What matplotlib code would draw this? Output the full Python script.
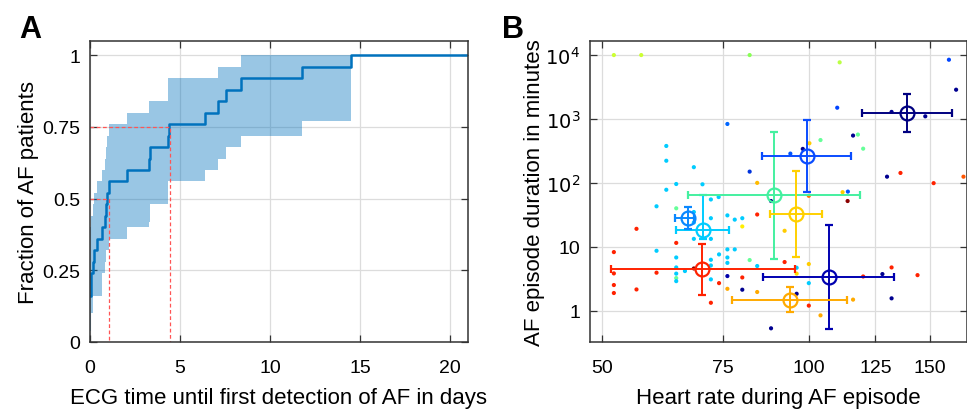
import matplotlib.pyplot as plt
from matplotlib.ticker import NullLocator

plt.rcParams['font.family'] = ['Liberation Sans Narrow', 'Liberation Sans', 'DejaVu Sans']
plt.rcParams['mathtext.fontset'] = 'custom'
plt.rcParams['mathtext.rm'] = 'Liberation Sans Narrow'

# panel A: cumulative fraction of patients with AF detected
step_days = [0, 0.05, 0.15, 0.24, 0.41, 0.69, 0.84, 0.91, 0.97, 1.03, 2.05,
             3.26, 3.36, 4.33, 4.40, 6.38, 7.09, 7.56, 8.41, 11.79, 14.5]
step_frac = [0.16, 0.24, 0.28, 0.32, 0.36, 0.40, 0.44, 0.48, 0.52, 0.56, 0.60,
             0.64, 0.68, 0.72, 0.76, 0.80, 0.84, 0.88, 0.92, 0.96, 1.0]
ci_upper = [0.40, 0.44, 0.48, 0.52, 0.56, 0.60, 0.64, 0.68, 0.72, 0.76,
            0.80, 0.84, 0.84, 0.92, 0.92, 0.92, 0.96, 0.96, 1.0, 1.0]
ci_lower = [0.04, 0.10, 0.16, 0.16, 0.16, 0.24, 0.28, 0.32, 0.32, 0.36,
            0.40, 0.42, 0.48, 0.56, 0.56, 0.60, 0.64, 0.68, 0.72, 0.77]
t50 = 1.03
t75 = 4.44

# panel B: single episodes (heart rate, duration, colour per patient)
ep_hr = [52.0, 57.0, 82.0, 76.1, 62.0, 62.0, 68.0, 82.0, 84.1, 64.1, 70.0, 62.0,
         60.0, 72.0, 73.9, 64.1, 68.0, 72.0, 76.1, 78.0, 80.0, 80.0, 84.1, 88.1,
         56.1, 64.1, 60.0, 52.0, 64.1, 64.1, 64.1, 64.1, 64.1, 66.0, 68.0, 72.0,
         72.0, 72.0, 74.0, 76.1, 76.1, 76.1, 78.0, 82.0, 84.1, 52.0, 60.0, 52.0,
         52.0, 56.1, 74.0, 72.0, 76.1, 80.0, 76.1, 80.0, 84.1, 88.1, 68.0, 72.0,
         68.0,
         110.9, 160, 163.9, 110.0, 132, 147.8, 116, 117.9, 104, 120, 100.2, 98,
         94, 130, 136, 152, 168, 112, 114, 113.9, 100, 92.2, 92.2, 96, 96, 100,
         100, 96, 100, 104, 116, 120, 128, 132, 144, 132]
ep_dur = [10000, 10000, 10000, 835, 378, 222, 176, 150, 100, 96, 95, 78,
          43, 55, 60, 40, 35, 28, 31, 26.6, 28, 20.8, 32, 52,
          19.1, 11.5, 8.66, 8.26, 6.8, 4.75, 3.8, 3.24, 2.9, 4.17, 4.58, 6.26,
          5.1, 3.09, 7.6, 9.1, 6.8, 5.6, 9.1, 6.2, 5.0, 3.83, 3.93, 2.52,
          1.89, 2.15, 2.7, 1.33, 3.48, 3.31, 2.2, 2.13, 1.96, 0.53, 13.3, 13.3,
          24,
          7690, 8450, 2870, 1500, 1290, 1100, 550, 570, 468, 343, 417, 340,
          287, 125, 143, 99, 125, 71.5, 73, 52, 62.7, 17.8, 5.77, 4.7, 3.8, 5.37,
          2.7, 1.84, 1.2, 0.845, 1.49, 3.43, 3.74, 4.75, 3.6, 1.56]
ep_col = ['#CCFF33', '#CCFF33', '#88FF55', '#0066FF', '#00CCFF', '#00CCFF', '#00CCFF', '#0033DD',
          '#FFBB00', '#00CCFF', '#00CCFF', '#00CCFF', '#00CCFF', '#00CCFF', '#00CCFF', '#66FF99',
          '#00CCFF', '#00CCFF', '#00CCFF', '#00CCFF', '#00CCFF', '#FFEE00', '#FF2200', '#000090',
          '#FF2200', '#FF2200', '#00CCFF', '#FF2200', '#00CCFF', '#00CCFF', '#00CCFF', '#66FF99',
          '#00CCFF', '#00CCFF', '#8B0000', '#00CCFF', '#00CCFF', '#00CCFF', '#00CCFF', '#00CCFF',
          '#00CCFF', '#00CCFF', '#00CCFF', '#66FF99', '#00CCFF', '#FF2200', '#FF2200', '#FF2200',
          '#FF2200', '#FF2200', '#FF2200', '#FF2200', '#0000AA', '#FF2200', '#FFAA00', '#000090',
          '#FFAA00', '#000090', '#00CCFF', '#00CCFF', '#00CCFF',
          '#BBFF44', '#0044FF', '#000090', '#0044FF', '#000090', '#000090', '#000090', '#66FF99',
          '#66FF99', '#66FF99', '#FFCC00', '#000090', '#0055FF', '#000090', '#FF2200', '#FF2200',
          '#FF5500', '#FFCC00', '#0055FF', '#8B0000', '#FF7700', '#FFCC00', '#FF2200', '#00CCFF',
          '#FFDD00', '#FFCC00', '#00CCFF', '#000090', '#FF2200', '#FFAA00', '#FFAA00', '#FF2200',
          '#000090', '#FF2200', '#FF2200', '#000090']

# panel B: per-patient mean with spread
pt_hr = [70.0, 70.1, 66.6, 88.9, 95.7, 99.3, 138.9, 106.9, 93.8]
pt_hr_lo = [51.5, 64.1, 63.8, 66.6, 87.8, 85.4, 119.6, 85.7, 77.2]
pt_hr_hi = [95.6, 76.5, 68.0, 118.6, 104.6, 115.3, 161.5, 133.3, 113.6]
pt_dur = [4.42, 18.3, 28, 65, 32.8, 264, 1227, 3.4, 1.49]
pt_dur_lo = [1.78, 13.3, 19.1, 6.5, 6.8, 71, 620, 0.52, 0.97]
pt_dur_hi = [11.0, 65, 41.6, 633, 152, 977, 2430, 22.1, 2.34]
pt_col = ['#FF2200', '#00CCFF', '#0A88FF', '#44F0A0', '#FFD000', '#0A4CFF',
          '#000080', '#0000B0', '#FFAA00']

fig = plt.figure(figsize=(9.67, 4.10), dpi=100)
axA = fig.add_axes([90 / 967, 67 / 410, 378 / 967, 301 / 410])
axB = fig.add_axes([590 / 967, 67 / 410, 377 / 967, 301 / 410])

spine_col = '#333333'
for ax in (axA, axB):
    ax.grid(True, color='#DCDCDC', linewidth=0.9)
    ax.set_axisbelow(True)
    for s in ax.spines.values():
        s.set_color(spine_col)
        s.set_linewidth(1.1)
    ax.tick_params(direction='in', top=True, right=True, length=5, width=0.9,
                   color=spine_col, labelsize=14)
    ax.tick_params(axis='x', pad=12)
    ax.tick_params(axis='y', pad=7)

# --- A ---
axA.fill_between(step_days, ci_lower + [ci_lower[-1]], ci_upper + [ci_upper[-1]],
                 step='post', color='#0072BD', alpha=0.4, linewidth=0)
axA.step(step_days + [21], step_frac + [1.0], where='post', color='#0072BD', linewidth=1.8)
axA.plot([0, t50, t50], [0.5, 0.5, 0], color='#FF5555', linestyle=(0, (3, 2)), linewidth=0.9)
axA.plot([0, t75, t75], [0.75, 0.75, 0], color='#FF5555', linestyle=(0, (3, 2)), linewidth=0.9)
axA.set_xlim(0, 21)
axA.set_ylim(0, 1.05)
axA.set_xticks([0, 5, 10, 15, 20])
axA.set_yticks([0, 0.25, 0.5, 0.75, 1])
axA.set_yticklabels(['0', '0.25', '0.5', '0.75', '1'])
axA.set_xlabel('ECG time until first detection of AF in days', fontsize=16, labelpad=8)
axA.set_ylabel('Fraction of AF patients', fontsize=16, labelpad=2)

# --- B ---
axB.scatter(ep_hr, ep_dur, s=9, c=ep_col, linewidths=0, zorder=3)
for i in range(len(pt_hr)):
    axB.errorbar(pt_hr[i], pt_dur[i],
                 xerr=[[pt_hr[i] - pt_hr_lo[i]], [pt_hr_hi[i] - pt_hr[i]]],
                 yerr=[[pt_dur[i] - pt_dur_lo[i]], [pt_dur_hi[i] - pt_dur[i]]],
                 fmt='o', ms=10, mfc='none', mec=pt_col[i], mew=1.6,
                 ecolor=pt_col[i], elinewidth=1.4, capsize=3, capthick=2, zorder=4)
axB.set_xscale('log')
axB.set_yscale('log')
axB.set_xlim(48, 170)
axB.set_ylim(10 ** -0.49, 10 ** 4.22)
axB.set_xticks([50, 75, 100, 125, 150])
axB.set_xticklabels(['50', '75', '100', '125', '150'])
axB.set_yticks([1, 10, 100, 1000, 10000])
axB.set_yticklabels(['1', '10', '$10^2$', '$10^3$', '$10^4$'])
axB.xaxis.set_minor_locator(NullLocator())
axB.yaxis.set_minor_locator(NullLocator())
axB.set_xlabel('Heart rate during AF episode', fontsize=16, labelpad=8)
axB.set_ylabel('AF episode duration in minutes', fontsize=16, labelpad=0)

fig.text(30 / 967, 1 - 30 / 410, 'A', fontsize=22, fontweight='bold', ha='center', va='center')
fig.text(513 / 967, 1 - 30 / 410, 'B', fontsize=22, fontweight='bold', ha='center', va='center')

fig.savefig('out.png', dpi=100)
